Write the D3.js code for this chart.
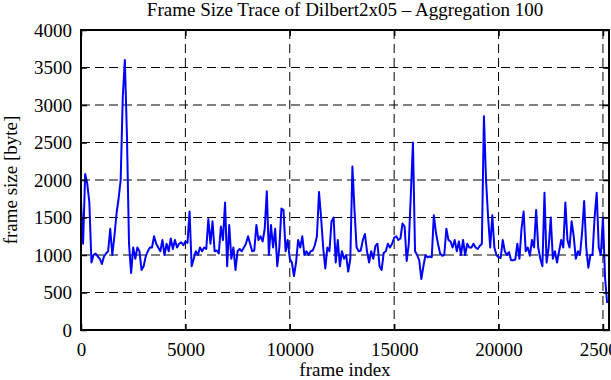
<!DOCTYPE html>
<html>
<head>
<meta charset="utf-8">
<script src="https://cdn.jsdelivr.net/npm/d3@7"></script>
<style>
  html, body { margin: 0; padding: 0; background: #fff; }
  svg { display: block; }
  text { font-family: "Liberation Serif", "DejaVu Serif", serif; fill: #000; }
</style>
</head>
<body>
<div id="chart"></div>
<script>
// ---- data (frame size per aggregated block of 100 frames) ----
const aggregation = 100;
const frameCount = 25290;
const frameSizes = [
  1700, 1150, 2080, 1950, 1700, 900, 1000, 1020, 980, 950,
  880, 980, 1020, 1050, 1350, 1000, 1250, 1550, 1750, 2000,
  3100, 3600, 2600, 1150, 760, 1100, 950, 1100, 1050, 800,
  850, 980, 1050, 1100, 1100, 1250, 1150, 1100, 1050, 1200,
  1000, 1150, 1050, 1220, 1080, 1200, 1100, 1150, 1170, 1130,
  1180, 1160, 1580, 850, 950, 1050, 1000, 1100, 1050, 1100,
  1080, 1480, 1150, 1450, 1050, 1060, 1020, 1380, 1200, 1700,
  850, 1400, 950, 1100, 800, 1050, 1080, 1050, 1100, 1150,
  1250, 1150, 1050, 1060, 1400, 1200, 1250, 1180, 1350, 1850,
  1000, 1400, 1100, 1350, 850, 1100, 1620, 1600, 1050, 1200,
  950, 900, 720, 900, 1200, 1100, 1250, 1000, 1050, 1000,
  1050, 1060, 1130, 1250, 1840, 1500, 1100, 820, 1100, 1050,
  1450, 1500, 900, 1200, 850, 1050, 950, 1000, 780, 950,
  2180, 1600, 1100, 1050, 1060, 1200, 1280, 1050, 900, 1050,
  950, 1120, 1150, 850, 800, 1030, 1050, 1150, 1100, 1150,
  1230, 1250, 1200, 1220, 1420, 1380, 920, 1150, 1820, 2500,
  1050, 1000, 930, 680, 850, 1000, 970, 980, 970, 1530,
  1300, 1150, 1020, 990, 1000, 1350, 1200, 1180, 1100, 1200,
  1050, 1180, 1000, 1200, 1000, 1150, 1100, 1100, 1150, 1100,
  1080, 1120, 1150, 2850, 2000, 1500, 1100, 1530, 1100, 1000,
  970, 960, 1200, 1050, 1000, 1040, 930, 930, 940, 1150,
  950, 1350, 1580, 1050, 1100, 990, 1200, 1100, 1600, 1100,
  950, 850, 1830, 900, 1100, 1500, 950, 1050, 900, 1050,
  1200, 1100, 1700, 1200, 1100, 1450, 1250, 950, 1050, 1000,
  1300, 1720, 1100, 830, 1000, 1000, 1500, 1830, 1100, 1000,
  1500, 700, 360
];
const xTicks = [0, 5000, 10000, 15000, 20000, 25000];
const yTicks = [0, 500, 1000, 1500, 2000, 2500, 3000, 3500, 4000];
const titleText = "Frame Size Trace of Dilbert2x05 \u2013 Aggregation 100";
const xLabel = "frame index";
const yLabel = "frame size [byte]";

// ---- layout ----
const W = 611, H = 380;
const m = { left: 81, right: 2, top: 30, bottom: 50 };
const iw = W - m.left - m.right, ih = H - m.top - m.bottom;
const fs = 19;

const svg = d3.select("#chart").append("svg").attr("width", W).attr("height", H);
const g = svg.append("g").attr("transform", `translate(${m.left},${m.top})`);

const x = d3.scaleLinear().domain([0, frameCount]).range([0, iw]);
const y = d3.scaleLinear().domain([0, 4000]).range([ih, 0]);

// grid
g.append("g").selectAll("line").data(yTicks.filter(d => d > 0 && d < 4000)).join("line")
  .attr("x1", 0).attr("x2", iw).attr("y1", d => y(d)).attr("y2", d => y(d))
  .attr("stroke", "#000").attr("stroke-width", 1).attr("stroke-dasharray", "9,5");
g.append("g").selectAll("line").data(xTicks.filter(d => d > 0)).join("line")
  .attr("y1", 0).attr("y2", ih).attr("x1", d => x(d)).attr("x2", d => x(d))
  .attr("stroke", "#000").attr("stroke-width", 1).attr("stroke-dasharray", "9,5");

// data line
const pts = frameSizes.map((v, i) => [i * aggregation, v]);
g.append("path").datum(pts)
  .attr("fill", "none").attr("stroke", "#0000ff").attr("stroke-width", 2)
  .attr("stroke-linejoin", "round")
  .attr("d", d3.line().x(d => x(d[0])).y(d => y(d[1])));

// axes (ticks inward, mirrored)
const tl = 6;
const axB = g.append("g").attr("transform", `translate(0,${ih})`)
  .call(d3.axisBottom(x).tickValues(xTicks).tickSizeInner(-tl).tickSizeOuter(0).tickPadding(13).tickFormat(d3.format("d")));
const axT = g.append("g")
  .call(d3.axisTop(x).tickValues(xTicks).tickSizeInner(-tl).tickSizeOuter(0).tickFormat(""));
const axL = g.append("g")
  .call(d3.axisLeft(y).tickValues(yTicks).tickSizeInner(-tl).tickSizeOuter(0).tickPadding(9).tickFormat(d3.format("d")));
const axR = g.append("g").attr("transform", `translate(${iw},0)`)
  .call(d3.axisRight(y).tickValues(yTicks).tickSizeInner(-tl).tickSizeOuter(0).tickFormat(""));
[axB, axT, axL, axR].forEach(a => {
  a.select(".domain").remove();
  a.selectAll(".tick line").attr("stroke", "#000").attr("stroke-width", 1.5);
  a.selectAll("text").attr("font-size", fs).attr("font-family", "Liberation Serif").attr("fill", "#000");
});

// frame
g.append("rect").attr("x", 0).attr("y", 0).attr("width", iw).attr("height", ih)
  .attr("fill", "none").attr("stroke", "#000").attr("stroke-width", 2);

// labels
svg.append("text").attr("x", m.left + iw / 2).attr("y", 16).attr("text-anchor", "middle")
  .attr("font-size", fs).text(titleText);
svg.append("text").attr("x", m.left + iw / 2).attr("y", 376).attr("text-anchor", "middle")
  .attr("font-size", fs).text(xLabel);
svg.append("text").attr("transform", `translate(17,${m.top + ih / 2}) rotate(-90)`)
  .attr("text-anchor", "middle").attr("font-size", fs).text(yLabel);
</script>
</body>
</html>
